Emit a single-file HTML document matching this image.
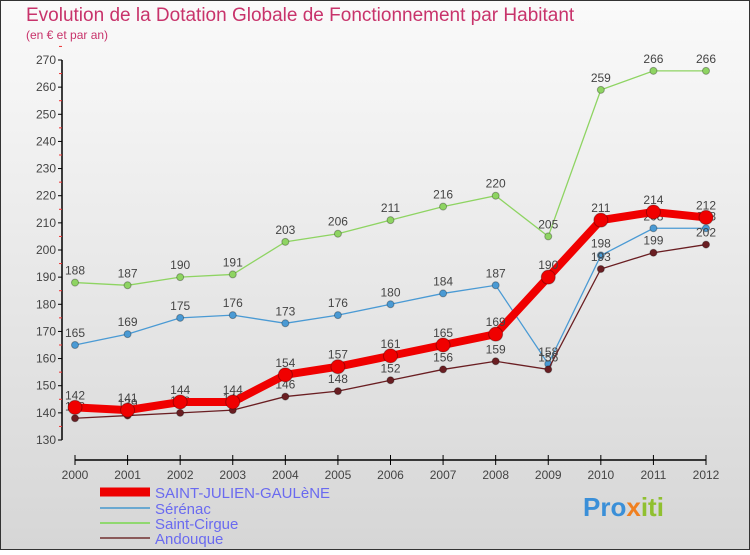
<!DOCTYPE html>
<html><head><meta charset="utf-8"><style>
body{margin:0;width:750px;height:550px;overflow:hidden;font-family:"Liberation Sans",sans-serif}
</style></head><body>
<svg width="750" height="550" xmlns="http://www.w3.org/2000/svg">
<defs><linearGradient id="bg" x1="0" y1="0" x2="0" y2="1"><stop offset="0" stop-color="#fafafa"/><stop offset="1" stop-color="#d6d6d6"/></linearGradient></defs>
<rect x="0.5" y="0.5" width="749" height="549" fill="url(#bg)" stroke="#333"/>
<text x="26" y="21" font-size="19" fill="#c8336b">Evolution de la Dotation Globale de Fonctionnement par Habitant</text>
<text x="26" y="39" font-size="12" fill="#c8336b">(en € et par an)</text>
<g id="axes"></g><g id="plot"></g>
<g>
<line x1="100" y1="492" x2="150" y2="492" stroke="#e00" stroke-width="9"/>
<text x="155" y="498" font-size="15" fill="#6a6af0">SAINT-JULIEN-GAULèNE</text>
<line x1="100" y1="508" x2="150" y2="508" stroke="#6aa8d0" stroke-width="2"/>
<text x="155" y="514" font-size="15" fill="#6a6af0">Sérénac</text>
<line x1="100" y1="523" x2="150" y2="523" stroke="#90d870" stroke-width="2"/>
<text x="155" y="529" font-size="15" fill="#6a6af0">Saint-Cirgue</text>
<line x1="100" y1="538" x2="150" y2="538" stroke="#8a5a5a" stroke-width="2"/>
<text x="155" y="544" font-size="15" fill="#6a6af0">Andouque</text>
</g>
<text x="583" y="516" font-size="26" font-weight="bold" fill="#3a8fd8">Pro<tspan fill="#f08020">x</tspan><tspan fill="#90c030">iti</tspan></text>
</svg>
<script>
const years=[2000,2001,2002,2003,2004,2005,2006,2007,2008,2009,2010,2011,2012];
const sjg=[142,141,144,144,154,157,161,165,169,190,211,214,212];
const serenac=[165,169,175,176,173,176,180,184,187,158,198,208,208];
const cirgue=[188,187,190,191,203,206,211,216,220,205,259,266,266];
const andouque=[138,139,140,141,146,148,152,156,159,156,193,199,202];
const yTicks=[130,140,150,160,170,180,190,200,210,220,230,240,250,260,270];
const NS="http://www.w3.org/2000/svg";
const X=i=>75+i*(706-75)/(years.length-1);
const Y=v=>440-(v-130)*(380/140);
function mk(t,a,p){const e=document.createElementNS(NS,t);for(const k in a)e.setAttribute(k,a[k]);p.appendChild(e);return e;}
const ax=document.getElementById('axes'),pl=document.getElementById('plot');
mk('line',{x1:62,y1:Y(130),x2:62,y2:Y(270),stroke:'#000','stroke-width':1.5},ax);
mk('line',{x1:75,y1:460,x2:706,y2:460,stroke:'#000','stroke-width':1.5},ax);
yTicks.forEach(v=>{mk('line',{x1:58,y1:Y(v),x2:62,y2:Y(v),stroke:'#000'},ax);
 mk('line',{x1:59,y1:Y(v+5),x2:62,y2:Y(v+5),stroke:'#e33'},ax);
 const t=mk('text',{x:56,y:Y(v)+4,'font-size':12,fill:'#444','text-anchor':'end'},ax);t.textContent=v;
 
 });
years.forEach((y,i)=>{mk('line',{x1:X(i),y1:455,x2:X(i),y2:465,stroke:'#000'},ax);
 const t=mk('text',{x:X(i),y:479,'font-size':12,fill:'#444','text-anchor':'middle'},ax);t.textContent=y;
 
 });
function series(vals,color,w,r,name){
 const g=mk('g',{},pl);
 
 
 mk('polyline',{points:vals.map((v,i)=>X(i)+','+Y(v)).join(' '),fill:'none',stroke:color,'stroke-width':w},g);
 vals.forEach((v,i)=>{const c=mk('circle',{cx:X(i),cy:Y(v),r:r,fill:color,stroke:'rgba(0,0,0,0.3)'},g);
  
  
  const t=mk('text',{x:X(i),y:Y(v)-8,'font-size':12,fill:'#444','text-anchor':'middle'},g);t.textContent=v;
  
  });
}
series(cirgue,'#8ed462',1.3,3.5,'series-saint-cirgue');
series(serenac,'#4a9ad4',1.3,3.5,'series-serenac');
series(andouque,'#6a1e22',1.3,3.5,'series-andouque');
series(sjg,'#f00000',8,7,'series-saint-julien');
</script>
</body></html>
